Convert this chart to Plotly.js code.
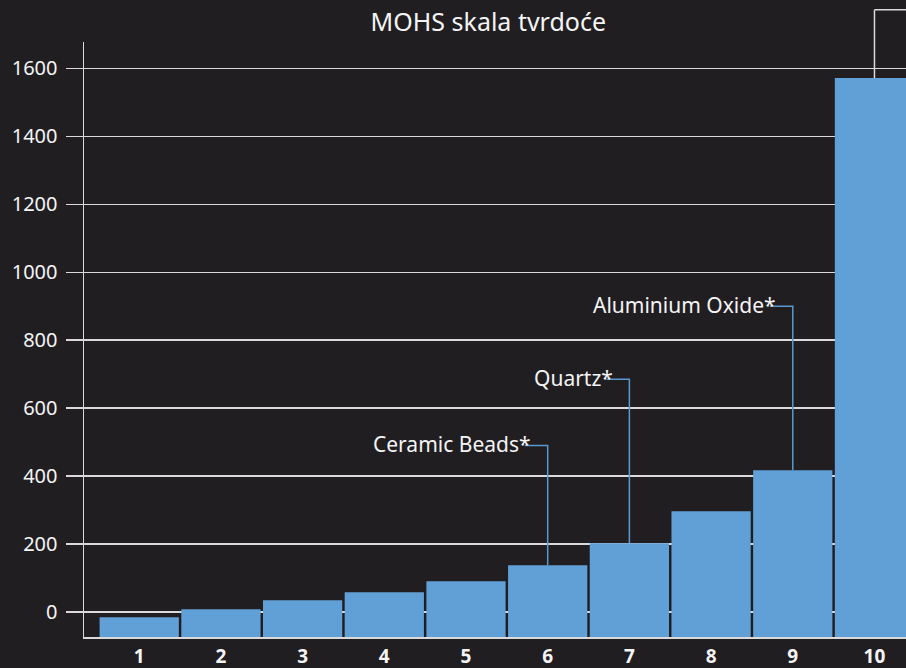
<!DOCTYPE html>
<html>
<head>
<meta charset="utf-8">
<script src="https://cdn.plot.ly/plotly-3.0.1.min.js"></script>
<style>
  html, body { margin: 0; padding: 0; background: #211e22; }
  #chart { width: 906px; height: 668px; }
</style>
</head>
<body>
<div id="chart"></div>
<script>
// ---- data ----
const hardness = [1, 2, 3, 4, 5, 6, 7, 8, 9, 10];
const tickLabels = ['1', '2', '3', '4', '5', '6', '7', '8', '9', '10'];
const values = [-16, 8, 34, 58, 90, 137, 202, 296, 417, 1572];
const yTicks = [0, 200, 400, 600, 800, 1000, 1200, 1400, 1600];

// leader labels
const leaderBars = [6, 7, 9];
const leaderLabels = ['Ceramic Beads*', 'Quartz*', 'Aluminium Oxide*'];
const leaderLevels = [490, 685, 900];
const topLeaderBar = 10;
const topLeaderLevel = 1773;

// ---- styling / layout ----
const yRange = [-74, 1678];
const xRange = [0.324, 10.386];
const bg = '#211e22';
const barColor = '#61a0d7';
const leaderColor = '#5a98d0';
const gridColor = '#dadada';
const textColor = '#f4f4f4';
const font = 'Noto Sans, Open Sans, sans-serif';
const hLeg = 0.28;

const base = yRange[0];
const trace = {
  type: 'bar',
  x: hardness,
  y: values.map(v => v - base),
  base: base,
  marker: { color: barColor, line: { width: 0 } },
  hoverinfo: 'skip'
};

const shapes = [];
const annotations = [];
leaderBars.forEach((b, i) => {
  const idx = hardness.indexOf(b);
  shapes.push({
    type: 'path', xref: 'x', yref: 'y',
    path: `M ${b - hLeg},${leaderLevels[i]} L ${b},${leaderLevels[i]} L ${b},${values[idx]}`,
    line: { color: leaderColor, width: 1.5 }
  });
  annotations.push({
    xref: 'x', yref: 'y', x: b - hLeg, y: leaderLevels[i],
    xanchor: 'right', yanchor: 'middle', xshift: 8, yshift: 1,
    text: leaderLabels[i], showarrow: false,
    font: { family: font, size: 21, color: textColor }
  });
});

// top leader for bar 10 (goes above plot area)
const toPaper = v => (v - yRange[0]) / (yRange[1] - yRange[0]);
const tIdx = hardness.indexOf(topLeaderBar);
shapes.push({
  type: 'line', xref: 'x', yref: 'paper',
  x0: topLeaderBar, x1: topLeaderBar,
  y0: toPaper(values[tIdx]), y1: toPaper(topLeaderLevel),
  line: { color: gridColor, width: 1.5 }
});
shapes.push({
  type: 'line', xref: 'x', yref: 'paper',
  x0: topLeaderBar, x1: topLeaderBar + 1,
  y0: toPaper(topLeaderLevel), y1: toPaper(topLeaderLevel),
  line: { color: gridColor, width: 1.5 }
});

const layout = {
  width: 906, height: 668,
  paper_bgcolor: bg, plot_bgcolor: bg,
  margin: { l: 84, r: 0, t: 42, b: 31, pad: 0 },
  showlegend: false,
  bargap: 0.03,
  title: {
    text: 'MOHS skala tvrdoće',
    font: { family: font, size: 25, color: textColor },
    x: 0.539, xanchor: 'center', y: 0.967, yanchor: 'middle'
  },
  xaxis: {
    type: 'linear', range: xRange,
    tickvals: hardness, ticktext: tickLabels,
    showgrid: false, zeroline: false,
    showline: true, linecolor: gridColor, linewidth: 1.5,
    ticks: '', ticklabelstandoff: 2,
    tickfont: { family: font, size: 19, color: textColor, weight: 'bold' }
  },
  yaxis: {
    range: yRange, tickvals: yTicks,
    showgrid: true, gridcolor: gridColor, gridwidth: 1.5,
    zeroline: false,
    showline: true, linecolor: gridColor, linewidth: 1.5,
    ticks: 'outside', ticklen: 17, tickcolor: gridColor, tickwidth: 1.5,
    ticklabelstandoff: 4,
    tickfont: { family: font, size: 20, color: textColor }
  },
  shapes: shapes,
  annotations: annotations
};

Plotly.newPlot('chart', [trace], layout, { displayModeBar: false, staticPlot: true });
</script>
</body>
</html>
